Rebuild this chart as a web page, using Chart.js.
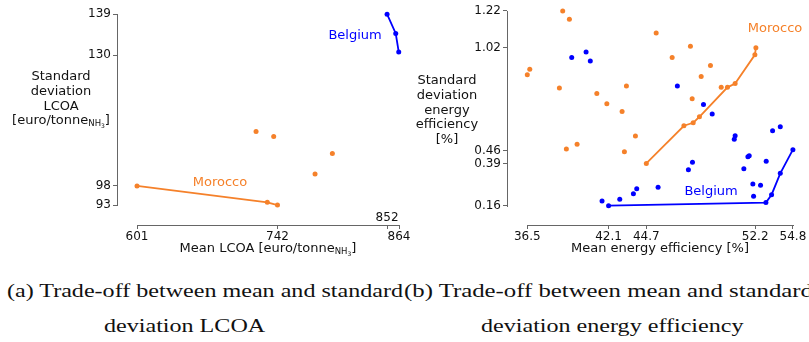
<!DOCTYPE html>
<html><head><meta charset="utf-8">
<script src="https://cdn.jsdelivr.net/npm/chart.js@4.4.1/dist/chart.umd.min.js"></script>
<style>
html,body{margin:0;padding:0;background:#fff;width:809px;height:342px;overflow:hidden}
#wrap{position:relative;width:809px;height:342px;overflow:hidden}
canvas{position:absolute;left:0;top:0}
.cap{position:absolute;font-family:"Liberation Serif",serif;font-size:18px;line-height:20px;color:#111;white-space:nowrap;transform-origin:left center}
</style></head><body>
<div id="wrap">
<canvas id="c1" width="840" height="270"></canvas>
<canvas id="c2" width="840" height="270"></canvas>
<div class="cap" id="capA1">(a) Trade-off between mean and standard</div>
<div class="cap" id="capB1">(b) Trade-off between mean and standard</div>
<div class="cap" id="capA2">deviation LCOA</div>
<div class="cap" id="capB2">deviation energy efficiency</div>
</div>
<script>
const ORANGE = '#f5812a';
const BLUE = '#0000ff';

// ---------- (a) LCOA ----------
const lcoaMoroccoFrontX = [601, 731.8, 742];
const lcoaMoroccoFrontY = [97.6, 93.65, 93];
const lcoaMoroccoOtherX = [720.5, 738.2, 797.1, 779.7];
const lcoaMoroccoOtherY = [110.7, 109.5, 105.4, 100.5];
const lcoaBelgiumFrontX = [852, 860.7, 863.7];
const lcoaBelgiumFrontY = [139, 134.35, 129.9];
const lcoaXTicks = [601, 742, 852, 864];
const lcoaXTickLabels = ['601', '742', '852', '864'];
const lcoaYTicks = [93, 97.6, 129.1, 139];
const lcoaYTickLabels = ['93', '98', '130', '139'];

// ---------- (b) energy efficiency ----------
const effMoroccoFrontX = [44.7, 47.29, 47.93, 48.36, 50.29, 50.82, 52.18, 52.25];
const effMoroccoFrontY = [0.39, 0.595, 0.611, 0.644, 0.804, 0.825, 0.981, 1.019];
const effMoroccoOtherX = [38.94, 39.40, 45.38, 36.67, 36.5, 38.71, 43.33, 41.29, 41.98, 43.03, 47.74, 46.48, 49.12, 48.48, 47.86, 49.86, 43.95, 39.93, 39.19, 43.19];
const effMoroccoOtherY = [1.22, 1.175, 1.100, 0.903, 0.872, 0.800, 0.811, 0.771, 0.715, 0.673, 1.027, 0.967, 0.923, 0.863, 0.742, 0.804, 0.539, 0.494, 0.468, 0.454];
const effBelgiumFrontX = [42.1, 52.94, 53.33, 53.93, 54.8];
const effBelgiumFrontY = [0.16, 0.177, 0.220, 0.336, 0.465];
const effBelgiumOtherX = [39.56, 40.55, 40.84, 46.84, 48.64, 49.24, 53.40, 53.93, 50.82, 50.76, 51.79, 51.70, 52.96, 47.88, 47.60, 51.42, 52.04, 52.57, 52.09, 45.51, 44.04, 43.81, 42.87, 41.65];
const effBelgiumOtherY = [0.967, 0.996, 0.948, 0.812, 0.711, 0.659, 0.568, 0.590, 0.541, 0.521, 0.432, 0.427, 0.402, 0.396, 0.356, 0.361, 0.278, 0.271, 0.211, 0.260, 0.253, 0.225, 0.195, 0.186];
const effXTicks = [36.5, 42.1, 44.7, 52.2, 54.8];
const effXTickLabels = ['36.5', '42.1', '44.7', '52.2', '54.8'];
const effYTicks = [0.16, 0.39, 0.46, 1.02, 1.22];
const effYTickLabels = ['0.16', '0.39', '0.46', '1.02', '1.22'];

const pts = (xs, ys) => xs.map((x, i) => ({x, y: ys[i]}));

Chart.defaults.font.family = 'DejaVu Sans';
Chart.defaults.font.size = 12;
Chart.defaults.color = '#111';

const AXIS_GRAY = '#666';

function drawRich(ctx, parts, cx, cy) {
  let total = 0;
  parts.forEach(p => { ctx.font = p.size + 'px "DejaVu Sans"'; p.w = ctx.measureText(p.t).width; total += p.w; });
  let x = cx - total / 2;
  ctx.textAlign = 'left';
  ctx.textBaseline = 'middle';
  parts.forEach(p => { ctx.font = p.size + 'px "DejaVu Sans"'; ctx.fillText(p.t, x, cy + (p.dy || 0)); x += p.w; });
}

const decorPlugin = {
  id: 'decor',
  afterDraw(chart, args, o) {
    const {ctx, scales: {x, y}, chartArea} = chart;
    ctx.save();
    ctx.strokeStyle = AXIS_GRAY;
    ctx.lineWidth = 1;
    const yb = Math.round(chartArea.bottom) + 0.5;
    ctx.beginPath();
    ctx.moveTo(Math.round(x.getPixelForValue(o.xTicks[0])), yb);
    ctx.lineTo(Math.round(x.getPixelForValue(o.xTicks[o.xTicks.length - 1])) + 1, yb);
    ctx.stroke();
    const xl = Math.round(chartArea.left) + 0.5;
    ctx.beginPath();
    ctx.moveTo(xl, Math.round(y.getPixelForValue(o.yTicks[0])) + 1);
    ctx.lineTo(xl, Math.round(y.getPixelForValue(o.yTicks[o.yTicks.length - 1])));
    ctx.stroke();
    ctx.fillStyle = '#111';
    ctx.font = '12px "DejaVu Sans"';
    ctx.textAlign = 'center';
    ctx.textBaseline = 'middle';
    (o.aboveLabels || []).forEach(v => {
      ctx.fillText(o.xTickLabels[o.xTicks.indexOf(v)], x.getPixelForValue(v), chartArea.bottom - 7);
    });
    ctx.fillStyle = '#111';
    o.yTitle.lines.forEach((line, i) => {
      drawRich(ctx, line, o.yTitle.cx, o.yTitle.cy + i * o.yTitle.lh);
    });
    drawRich(ctx, o.xTitle.parts, o.xTitle.cx, o.xTitle.cy);
    o.labels.forEach(l => {
      ctx.fillStyle = l.color;
      ctx.font = '13px "DejaVu Sans"';
      ctx.textAlign = 'center';
      ctx.textBaseline = 'middle';
      ctx.fillText(l.text, x.getPixelForValue(l.x), y.getPixelForValue(l.y));
    });
    ctx.restore();
  }
};

function scaleOpts(min, max, ticks, labels, fitSize, isX, hidden) {
  return {
    type: 'linear', min, max,
    afterBuildTicks: s => { s.ticks = ticks.map(v => ({value: v})); },
    afterFit: s => { if (isX) s.height = fitSize; else s.width = fitSize; },
    ticks: {
      autoSkip: false, padding: isX ? 1 : 2, color: '#111', font: {size: 12},
      callback: (v) => { const i = ticks.indexOf(v); if (hidden && hidden.includes(v)) return ''; return i >= 0 ? labels[i] : ''; }
    },
    grid: {display: true, drawOnChartArea: false, drawTicks: true, tickLength: 4, color: AXIS_GRAY, lineWidth: 1},
    border: {display: false}
  };
}

function ds(data, color, line) {
  return {data, showLine: line, borderColor: color, backgroundColor: color, pointBackgroundColor: color,
    pointBorderColor: color, pointRadius: 2.5, pointBorderWidth: 0, borderWidth: 1.8, clip: false, tension: 0};
}

const sub = (t) => ({t, size: 8.5, dy: 3});
const subsub = (t) => ({t, size: 6, dy: 5});
const N = (t) => ({t, size: 13, dy: 0});

new Chart(document.getElementById('c1'), {
  type: 'scatter',
  data: {datasets: [
    ds(pts(lcoaMoroccoOtherX, lcoaMoroccoOtherY), ORANGE, false),
    ds(pts(lcoaMoroccoFrontX, lcoaMoroccoFrontY), ORANGE, true),
    ds(pts(lcoaBelgiumFrontX, lcoaBelgiumFrontY), BLUE, true)
  ]},
  options: {
    responsive: false, animation: false, devicePixelRatio: 1,
    layout: {padding: {left: 77, right: 435, top: 9, bottom: 15}},
    plugins: {legend: {display: false}, tooltip: {enabled: false},
      decor: {
        xTicks: lcoaXTicks, yTicks: lcoaYTicks, xTickLabels: lcoaXTickLabels, aboveLabels: [852],
        yTitle: {cx: 61, cy: 77, lh: 14.7, lines: [[N('Standard')], [N('deviation')], [N('LCOA')], [N('[euro/tonne'), sub('NH'), subsub('3'), N(']')]]},
        xTitle: {cx: 268, cy: 249, parts: [N('Mean LCOA [euro/tonne'), sub('NH'), subsub('3'), N(']')]},
        labels: [{text: 'Belgium', x: 819.9, y: 133.9, color: BLUE}, {text: 'Morocco', x: 684.3, y: 98.3, color: ORANGE}]
      }},
    scales: {
      x: scaleOpts(580.92, 870.0, lcoaXTicks, lcoaXTickLabels, 30, true, [852]),
      y: scaleOpts(88.183, 140.204, lcoaYTicks, lcoaYTickLabels, 40, false)
    }
  },
  plugins: [decorPlugin]
});

new Chart(document.getElementById('c2'), {
  type: 'scatter',
  data: {datasets: [
    ds(pts(effMoroccoOtherX, effMoroccoOtherY), ORANGE, false),
    ds(pts(effBelgiumOtherX, effBelgiumOtherY), BLUE, false),
    ds(pts(effMoroccoFrontX, effMoroccoFrontY), ORANGE, true),
    ds(pts(effBelgiumFrontX, effBelgiumFrontY), BLUE, true)
  ]},
  options: {
    responsive: false, animation: false, devicePixelRatio: 1,
    layout: {padding: {left: 467, right: 40, top: 9, bottom: 15}},
    plugins: {legend: {display: false}, tooltip: {enabled: false},
      decor: {
        xTicks: effXTicks, yTicks: effYTicks, xTickLabels: effXTickLabels, aboveLabels: [],
        yTitle: {cx: 447, cy: 81, lh: 14.6, lines: [[N('Standard')], [N('deviation')], [N('energy')], [N('efficiency')], [N('[%]')]]},
        xTitle: {cx: 660, cy: 249, parts: [N('Mean energy efficiency [%]')]},
        labels: [{text: 'Morocco', x: 53.57, y: 1.126, color: ORANGE}, {text: 'Belgium', x: 49.16, y: 0.2345, color: BLUE}]
      }},
    scales: {
      x: scaleOpts(35.101, 55.289, effXTicks, effXTickLabels, 30, true),
      y: scaleOpts(0.0551, 1.2292, effYTicks, effYTickLabels, 40, false)
    }
  },
  plugins: [decorPlugin]
});

// captions
(function () {
  const a1 = document.getElementById('capA1');
  const b1 = document.getElementById('capB1');
  const k = 396 / a1.getBoundingClientRect().width;
  const kb = 409 / b1.getBoundingClientRect().width;
  const place = (id, left, cy, kk) => {
    const el = document.getElementById(id);
    el.style.left = left + 'px';
    el.style.top = (cy - 11) + 'px';
    el.style.transform = 'scaleX(' + kk + ')';
  };
  const a2 = document.getElementById('capA2');
  const b2 = document.getElementById('capB2');
  const wa2 = a2.getBoundingClientRect().width;
  const wb2 = b2.getBoundingClientRect().width;
  place('capA1', 7, 292, k);
  place('capB1', 404, 292, kb);
  place('capA2', 185 - wa2 * k / 2, 327, k);
  place('capB2', 612 - wb2 * k / 2, 327, k);
})();
</script>
</body></html>
